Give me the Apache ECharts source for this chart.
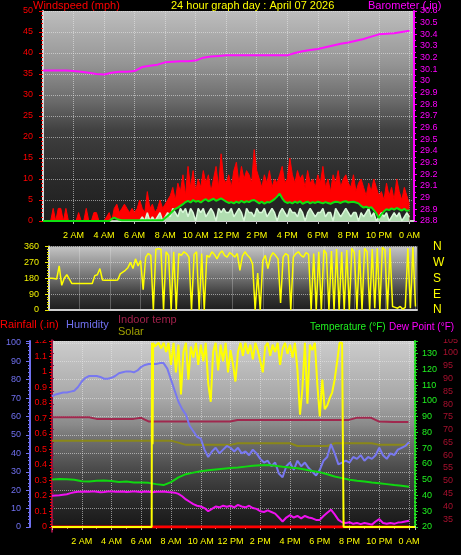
<!DOCTYPE html>
<html><head><meta charset="utf-8">
<script src="https://cdn.jsdelivr.net/npm/echarts@6/dist/echarts.min.js"></script>
<style>html,body{margin:0;padding:0;background:#000;}#c{width:461px;height:555px;}</style>
</head><body><div id="c"></div>
<script>
// ---------- DATA (hours since midnight) ----------
// 10-minute wind readings (145 points, 0h..24h)
const windGust = [0,0,0,0, 3,0,3,3,0,3, 0,0,0,0, 2, 0,0, 3, 0,0,2, 2, 0,0,0, 1,2,0,
 3,4,2,3,4,3,2,3, 2,3,5,3,2,7,3,4,2,3,5,3,4, 5,6,8,5,9,7, 11,6,13,8,12,7,
 10,8,12,9,11,7,10,13,8,16,10,9, 11,8,12,14,9,13,10,12,11,9,17,12,
 10,8,11,9,12,8,10,9,11,13,9,10, 15,11,9,12,10,11,8,12,9,10,8,11,
 9,13,8,10,7,11,9,12,8,10,11,9, 8,11,7,9,10,8,6,9,7,10,8,6,
 7,5,9,6,8,5,10,7,5,8,6,4];
const windSpeed = [0,0,0,0,0,0,0,0,0,0,0,0,0,0,0,0,0,0,0,0,0,0,0,0,0,0,0,0,0,0,0,0,0,0,0,0,0,0,0,
 1,0,2,0,1,0,1,2,0,1, 2,1,3,2,1,3, 2,3,1,3,2,0,3,2,3,1,2,3,2,0,3,2,3,2,
 2,3,1,2,3,2,0,3,2,2,1,3, 2,2,3,1,2,3,2,0,2,3,2,1, 3,2,2,1,3,2,0,2,3,2,1,2,
 2,3,1,2,2,0,3,2,1,2,3,2, 1,2,2,0,2,1,2,3,1,2,0,1, 2,1,2,0,1,2,1,2,0,1,2,1];
const windAvg = [0,0,0,0,0,0,0,0,0,0,0,0,0,0,0,0,0,0,0,0,0,0,0,0,0,0,0,
 0.5,0.8,0.5,0.3, 0.2,0.2,0.2,0.2,0.2,0.2,0.2,0.2,0.2,0.2,0.2,0.2,0.2,0.2,0.2,0.2,0.2,
 0.7, 1.2,1.8,2.4,2.9, 3.2,3.6,4,4.5,4.8,4.4,5,4.6,4.8,
 4.4,4.9,5.2,4.7,5,5.3,4.8,5.1,5.4,5,4.6, 4.3,4.5,4.2,4.6,4.3,4.8,4.4,4.7,4.5,4.9,5,4.6,
 4.2,4.6,4.1,4.5,4.4,4.8,5.2,5.8,6.5,5.4,4.6,4.3, 4.5,4.2,4.6,4.3,4.7,4.1,4.4,4.6,4.2,4.5,4.3,4.6,
 4.4,4.2,4.5,4.3,4.1,4.4,4.6,4.5,4.3,4.6,4.7,4.4, 4.5,4.6,4.4,4.2,3.6,3.2,3.4,3.1,3.3,2.6,1.8,0.7,
 1.6,2.3,2.8,2.6,3,2.7,3.1,2.8,2.5,2.9,2.4,2.6];
const windDir = [180,180,178,175,250,140,180,200,175,150, 150,150,150,150,150,150,150,150,
 195,200,235,170, 168,168,168,168,168,170,
 205,215,225,240,270,235,290,250,280,115,300,320,310,
 0,345,348,345,0,330,310,
 0,330,0,320,310,330,320,300,0,315,330,0,320,
 0,310,300,330,315,290,320,335,310,300,325,315,
 300,320,225,305,330,310,295,260,0,210,0,280,
 310,235,300,325,310,290,40,300,320,310,0,300,
 320,330,310,300,325,315,0,320,0,330,0,340,
 320,0,335,0,345,0,330,0,340,0,350,325,
 0,340,0,350,330,0,345,10,350,0,355,340,
 0,350,20,15,10,20,5,15,350,10,355,20];
// 30-minute readings (49 points)
const barometer = [30.09,30.09,30.09,30.09,30.085,30.08,30.07,30.06,30.055,30.07,
 30.08,30.08,30.085,30.12,30.13,30.14,30.16,30.165,30.17,30.17,
 30.175,30.2,30.21,30.215,30.22,30.22,30.22,30.22,30.22,30.22,
 30.22,30.22,30.22,30.24,30.255,30.265,30.275,30.29,30.305,30.32,
 30.33,30.345,30.36,30.38,30.40,30.405,30.41,30.42,30.43];
const temperature = [50.2,50.5,50.3,50,49,48.8,49.3,49.5,49.2,48.5,
 48.8,48.2,48.3,48,47.2,46.6,48.5,51.5,53.5,54.5,
 55.3,56,56.5,57,57.5,57.8,58.3,58.8,59.2,59.3,
 58.8,58.2,57.8,57.3,56.5,55.5,54.8,53.5,52,51,
 50,49.3,48.8,48.2,47.8,47.2,46.6,46.2,45.6];
const indoorTemp = [74.8,74.8,74.8,74.8,74.8,74.8, 74.2,74.2,74.2,74.2,74.2,74.2, 74.6,
 73.2,73.2,73.2,73.2,73.2,73.2,73.2,73.2,73.2,73.2,73.2,73.2,
 73.8,73.8,73.8,73.8,73.8,73.8,73.8,73.8,73.8,73.8,73.8,73.8,73.8,73.8,73.8,73.8,
 74.6,74.6,74.6, 73.2,73.1,73,73,73];
const indoorHumidity = [46.9,46.9,46.9,46.9,46.9,46.9,46.9,46.9,46.9,46.9,46.9,46.9,46.9,46.9,46.9,46.9,46.9,
 45.8, 44.6,44.6,44.6,44.6,44.6,44.6,44.6,
 45.5,45.5,45.5,45.5,45.5,45.5,45.5,45.5, 44,44,44,44,44,
 45.5,45.5,45.5,45.5,45.5,45.5, 44.6,44.6,44.6,44.6,44.6];
// 15-minute readings (97 points)
const humidity = [71,72,72.5,73,73,73.5,74,76,79,81, 82,82,82,81.5,80.5,80.5,81,82,83.5,84,
 84.5,84.5,84,85,87,88,88.5,88.5,88.5,89, 89,
 86,80,74,68,64,61,55,52,49,48, 42,38,41,43,40,42,44,43,41,43,
 40,41,39,42,40,37,35,36,33,35, 29,27,33,35,31,36,33,35,32,30,
 28,31,36,38,45,40,34,35,36,35, 38,37,39,36,38,37,39,43,39,37, 40,39,42,43,44,46];
const dewPoint = [39.8,40,40.2,40.5,40.8,41.5,42,42.3,42.4,
 42.5,42.3,42.6,42.4,42,42.2,42.5,42.6,42.3,42.4,42.5,42.2,42.3,42.6,42.4,42.2,42.5,42.3,42.1,42.4,
 42.3,42.5,42.2,42,41.8,41,
 39.5,37.5,36,34.5,33.5,33,32,30,31.5,33,
 32.5,33.5,32.8,33.5,32.5,34,33,32.5,33.5,32,
 31.5,30,29.5,30.5,29.5,28.5,26,23.5,26,27.5,
 26,27,25.5,27,26,25.5,24.5,24.5,27,29,
 31,28,24.5,23,22.5,23,22,22.5,21.8,22.5,
 22,21.5,23.5,25,22.5,22,22.5,22,22.8,23,23.5,24];
// hourly rainfall (25 points)
const rainfall = [0,0,0,0,0,0,0,0,0,0,0,0,0,0,0,0,0,0,0,0,0,0,0,0,0];
// solar (irregular times)
const solarHours = [0,6.7,6.72,6.76,6.8,6.9,7.0,7.17,7.33,7.5,7.67,7.83,8.0,8.17,8.33,8.5,8.67,8.83,9.0,9.17,9.33,9.5,9.67,9.83,
 10.0,10.17,10.33,10.5,10.67,10.83,11.0,11.17,11.33,11.5,11.67,11.83,12.0,12.17,12.33,12.5,12.67,12.83,
 13.0,13.17,13.33,13.5,13.67,13.83,14.0,14.17,14.33,14.5,14.67,14.83,15.0,15.17,15.33,15.5,15.67,15.83,
 16.0,16.17,16.33,16.5,16.67,16.83,17.0,17.17,17.33,17.5,17.67,17.83,18.0,18.17,18.33,18.5,18.67,18.83,
 19.0,19.17,19.33,19.5,19.57,19.6,24.4];
const solarValues = [0,0,100,45,100,98,99,100,97,100,95,100,88,100,84,99,72,95,100,80,98,92,100,88,
 99,90,100,78,68,95,100,85,99,90,100,84,96,88,79,95,100,93,
 100,94,99,91,100,96,90,84,98,100,93,99,95,100,88,97,100,94,
 99,92,100,85,61,75,100,67,99,96,100,78,60,80,64,66,70,73,
 80,90,100,100,100,0,0];
const hourTicks = ['0 AM','2 AM','4 AM','6 AM','8 AM','10 AM','12 PM','2 PM','4 PM','6 PM','8 PM','10 PM','0 AM'];
const compass = ['N','W','S','E','N'];

// ---------- helpers ----------
const steps = (n, step) => Array.from({length:n}, (_, i) => i*step);
const h10 = steps(145, 1/6), h15 = steps(97, 0.25), h30 = steps(49, 0.5), h60 = steps(25, 1);
const pairs = (hs, vs) => vs.map((v, i) => [hs[i], v]);
const hourLabel = v => { const k = Math.round(v/2); return (Math.abs(v - k*2) < 0.01) ? hourTicks[k] : ''; };
const trim1 = v => String(+(+v).toFixed(2));
const FONT = '"Liberation Sans", Arial, sans-serif';
const grad = stops => ({type:'linear', x:0, y:0, x2:0, y2:1, colorStops: stops.map(s => ({offset:s[0], color:s[1]}))});
const dotted = {show:true, lineStyle:{type:'dotted', color:'rgba(235,235,235,0.55)', width:1}};
const xLabel = {color:'#ffff00', fontSize:9, fontFamily:FONT, margin:7, formatter:hourLabel,
  showMinLabel:false, showMaxLabel:false, textShadowColor:'#900000', textShadowOffsetX:1, textShadowOffsetY:1, textShadowBlur:0};

const chart = echarts.init(document.getElementById('c'), null, {renderer:'canvas'});
const option = {
  backgroundColor:'#000',
  animation:false,
  grid:[
    {left:43, top:11, width:371, height:210, show:true, borderWidth:0,
     backgroundColor: grad([[0,'#bdbdbd'],[0.25,'#959595'],[0.43,'#6a6a6a'],[0.57,'#404040'],[0.8,'#2a2a2a'],[1,'#1e1e1e']])},
    {left:49, top:246.5, width:368, height:63.5, show:true, borderWidth:0,
     backgroundColor: grad([[0,'#c4c4c4'],[0.5,'#6e6e6e'],[0.8,'#333333'],[1,'#1e1e1e']])},
    {left:52, top:341, width:363, height:186, show:true, borderWidth:0,
     backgroundColor: grad([[0,'#cccccc'],[0.32,'#a6a6a6'],[0.45,'#8a8a8a'],[0.53,'#707070'],[0.69,'#4a4a4a'],[0.85,'#2c2c2c'],[1,'#181818']])},
    {left:52, top:340.2, width:363, height:191.6, show:false}
  ],
  xAxis:[
    {gridIndex:0, type:'value', min:0, max:24.3, interval:2, offset:3,
     axisLine:{lineStyle:{color:'#cfcfcf', width:2}}, axisTick:{length:3, lineStyle:{color:'#bbbbbb'}},
     axisLabel:xLabel, splitLine:dotted},
    {gridIndex:1, type:'value', min:0, max:24.1, interval:2,
     axisLine:{lineStyle:{color:'#cfcfcf', width:2}}, axisTick:{show:false}, axisLabel:{show:false}, splitLine:dotted},
    {gridIndex:2, type:'value', min:0, max:24.4, interval:2, offset:3,
     axisLine:{lineStyle:{color:'#e0e0e0', width:2}}, axisTick:{length:3, lineStyle:{color:'#bbbbbb'}},
     minorTick:{show:true, splitNumber:2, length:2, lineStyle:{color:'#999'}},
     axisLabel:xLabel, splitLine:dotted},
    {gridIndex:3, type:'value', min:0, max:24.4, show:false}
  ],
  yAxis:[
    {gridIndex:0, type:'value', min:0, max:50, interval:5, position:'left',
     axisLine:{show:true, lineStyle:{color:'#d8d8d8', width:2}},
     axisTick:{show:true, length:4, lineStyle:{color:'#ff0000'}},
     minorTick:{show:true, splitNumber:5, length:2, lineStyle:{color:'#ff0000'}},
     axisLabel:{color:'#ff0000', fontSize:9, fontFamily:FONT, margin:10}, splitLine:dotted},
    {gridIndex:0, type:'value', min:28.8, max:30.6, interval:0.1, position:'right',
     axisLine:{show:true, lineStyle:{color:'#ff00ff', width:2}},
     axisTick:{show:true, length:3, lineStyle:{color:'#ff00ff'}},
     minorTick:{show:true, splitNumber:2, length:2, lineStyle:{color:'#ff00ff'}},
     axisLabel:{color:'#ff00ff', fontSize:9, fontFamily:FONT, margin:6, formatter:trim1}, splitLine:{show:false}},
    {gridIndex:1, type:'value', min:0, max:360, interval:90, position:'left',
     axisLine:{show:true, lineStyle:{color:'#d8d8d8', width:2}},
     axisTick:{show:true, length:4, lineStyle:{color:'#e8e800'}},
     minorTick:{show:true, splitNumber:6, length:2, lineStyle:{color:'#e8e800'}},
     axisLabel:{color:'#f0f000', fontSize:9, fontFamily:FONT, margin:10}, splitLine:dotted},
    {gridIndex:2, type:'value', min:0, max:1.2, interval:0.1, position:'left',
     axisLine:{show:true, lineStyle:{color:'#ff2020', width:2, type:'dashed'}},
     axisTick:{show:true, length:3, lineStyle:{color:'#ff0000'}},
     minorTick:{show:true, splitNumber:5, length:2, lineStyle:{color:'#ff0000'}},
     axisLabel:{color:'#ff0000', fontSize:9, fontFamily:FONT, margin:5, formatter:trim1}, splitLine:{show:false}},
    {gridIndex:2, type:'value', min:0, max:101, interval:10, position:'left', offset:22,
     axisLine:{show:true, lineStyle:{color:'#7070f0', width:2}},
     axisTick:{show:true, length:4, lineStyle:{color:'#7070f0'}},
     minorTick:{show:true, splitNumber:5, length:2, lineStyle:{color:'#7070f0'}},
     axisLabel:{color:'#7070f0', fontSize:9, fontFamily:FONT, margin:9, showMaxLabel:false}, splitLine:dotted},
    {gridIndex:2, type:'value', min:20, max:138, interval:10, position:'right',
     axisLine:{show:true, lineStyle:{color:'#20e020', width:2, type:'dotted'}},
     axisTick:{show:true, length:3, lineStyle:{color:'#20e020'}},
     minorTick:{show:true, splitNumber:5, length:2, lineStyle:{color:'#20e020'}},
     axisLabel:{color:'#20f020', fontSize:9, fontFamily:FONT, margin:7, showMaxLabel:false}, splitLine:{show:false}},
    {gridIndex:3, type:'value', min:30, max:105, interval:5, position:'right', offset:22.7,
     axisLine:{show:true, lineStyle:{color:'#901040', width:2}},
     axisTick:{show:true, length:2, lineStyle:{color:'#901040'}},
     axisLabel:{color:'#a8102e', fontSize:9, fontFamily:FONT, margin:6, showMinLabel:false}, splitLine:{show:false}}
  ],
  series:[
    {name:'Wind gust', type:'line', xAxisIndex:0, yAxisIndex:0, data:pairs(h10, windGust),
     symbol:'none', lineStyle:{width:1, color:'#ff0000'}, itemStyle:{color:'#ff0000'}, areaStyle:{color:'#ff0000', opacity:1}},
    {name:'Wind avg shade', type:'line', xAxisIndex:0, yAxisIndex:0, data:pairs(h10, windAvg),
     symbol:'none', silent:true, lineStyle:{width:0, opacity:0}, areaStyle:{color:'#242424', opacity:1}},
    {name:'Wind speed', type:'line', xAxisIndex:0, yAxisIndex:0, data:pairs(h10, windSpeed),
     symbol:'none', lineStyle:{width:1.5, color:'#d8f8d8'}, areaStyle:{color:'#b8e8b8', opacity:0.95}},
    {name:'Wind avg', type:'line', xAxisIndex:0, yAxisIndex:0, data:pairs(h10, windAvg),
     symbol:'none', lineStyle:{width:2, color:'#10e010'}},
    {name:'Barometer', type:'line', xAxisIndex:0, yAxisIndex:1, data:pairs(h30, barometer),
     symbol:'none', lineStyle:{width:2, color:'#ff10ff'}},
    {name:'Wind direction', type:'line', xAxisIndex:1, yAxisIndex:2, data:pairs(h10, windDir),
     symbol:'none', lineStyle:{width:1.5, color:'#ffff00'}},
    {name:'Rainfall', type:'line', xAxisIndex:2, yAxisIndex:3, data:pairs(h60, rainfall),
     symbol:'none', lineStyle:{width:3, color:'#ff0000'}},
    {name:'Indoor humidity', type:'line', xAxisIndex:2, yAxisIndex:4, data:pairs(h30, indoorHumidity),
     symbol:'none', lineStyle:{width:2, color:'#8a8818'}},
    {name:'Indoor temp', type:'line', xAxisIndex:3, yAxisIndex:6, data:pairs(h30, indoorTemp),
     symbol:'none', lineStyle:{width:2, color:'#a0284e'}},
    {name:'Humidity', type:'line', xAxisIndex:2, yAxisIndex:4, data:pairs(h15, humidity),
     symbol:'none', lineStyle:{width:2, color:'#7878f0'}},
    {name:'Temperature', type:'line', xAxisIndex:2, yAxisIndex:5, data:pairs(h30, temperature),
     symbol:'none', lineStyle:{width:2, color:'#10d810'}},
    {name:'Dew Point', type:'line', xAxisIndex:2, yAxisIndex:5, data:pairs(h15, dewPoint),
     symbol:'none', lineStyle:{width:2, color:'#f010f0'}},
    {name:'Solar', type:'line', xAxisIndex:2, yAxisIndex:4, data:pairs(solarHours, solarValues),
     symbol:'none', lineStyle:{width:2, color:'#ffff00'}}
  ],
  graphic:[
    {type:'text', x:33, y:6, style:{text:'Windspeed (mph)', fill:'#ff0000', font:'11px '+FONT, verticalAlign:'middle'}},
    {type:'text', x:171, y:6, style:{text:'24 hour graph day : April 07 2026', fill:'#ffff00', font:'11px '+FONT, verticalAlign:'middle'}},
    {type:'text', x:368, y:6, style:{text:'Barometer (.in)', fill:'#ff00ff', font:'11px '+FONT, verticalAlign:'middle'}},
    ...compass.map((c, i) => ({type:'text', x:433, y:246.5 + i*15.9, style:{text:c, fill:'#ffff00', font:'12px '+FONT, verticalAlign:'middle'}})),
    {type:'text', x:0, y:325, style:{text:'Rainfall (.in)', fill:'#ff0000', font:'11px '+FONT, verticalAlign:'middle'}},
    {type:'text', x:66, y:325, style:{text:'Humidity', fill:'#7070f0', font:'11px '+FONT, verticalAlign:'middle'}},
    {type:'text', x:118, y:320, style:{text:'Indoor temp', fill:'#a0204a', font:'11px '+FONT, verticalAlign:'middle'}},
    {type:'text', x:118, y:332, style:{text:'Solar', fill:'#a0a000', font:'11px '+FONT, verticalAlign:'middle'}},
    {type:'text', x:310, y:327, style:{text:'Temperature (°F)', fill:'#20f020', font:'10px '+FONT, verticalAlign:'middle'}},
    {type:'text', x:389, y:327, style:{text:'Dew Point (°F)', fill:'#ff00ff', font:'10px '+FONT, verticalAlign:'middle'}},
    {type:'rect', z:100, shape:{x:30, y:333, width:19, height:7}, style:{fill:'#000'}},
    {type:'rect', z:100, shape:{x:440, y:333, width:21, height:6}, style:{fill:'#000'}}
  ]
};
chart.setOption(option);
</script>
</body></html>
